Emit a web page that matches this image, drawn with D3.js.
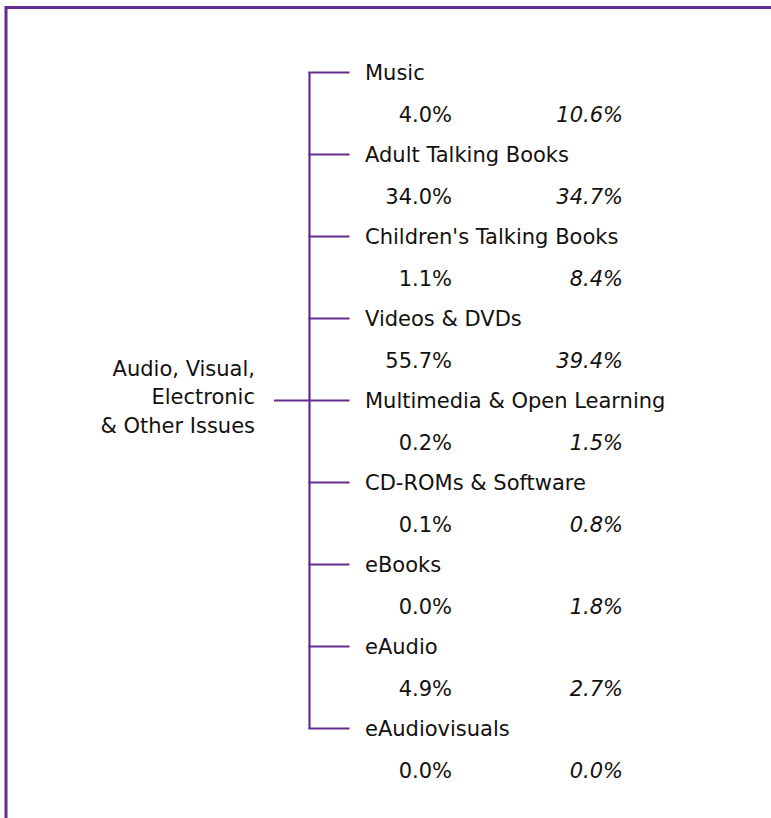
<!DOCTYPE html>
<html>
<head>
<meta charset="utf-8">
<script src="https://cdn.jsdelivr.net/npm/d3@7"></script>
<style>
  html, body { margin: 0; padding: 0; background: #fff; }
  svg { display: block; }
  text { font-family: "DejaVu Sans", Verdana, sans-serif; fill: #111; }
</style>
</head>
<body>
<svg id="chart" width="771" height="818"></svg>
<script>
const rootLabel = ["Audio, Visual,", "Electronic", "& Other Issues"];
const categories = ["Music", "Adult Talking Books", "Children's Talking Books", "Videos & DVDs",
  "Multimedia & Open Learning", "CD-ROMs & Software", "eBooks", "eAudio", "eAudiovisuals"];
const shareA = [4.0, 34.0, 1.1, 55.7, 0.2, 0.1, 0.0, 4.9, 0.0];
const shareB = [10.6, 34.7, 8.4, 39.4, 1.5, 0.8, 1.8, 2.7, 0.0];

const purple = "#662d91";
const W = 771, H = 818;
const svg = d3.select("#chart");

// frame
svg.append("path")
  .attr("d", `M6,${H} V7.5 H${W}`)
  .attr("fill", "none").attr("stroke", purple).attr("stroke-width", 3);

const y = d3.scalePoint().domain(categories).range([72.5, 728.5]);
const trunkX = 309.5, branchEnd = 349.5, rootStart = 274;
const rootY = y(categories[Math.floor(categories.length / 2)]);

const g = svg.append("g");
// trunk
g.append("path")
  .attr("d", `M${trunkX},${y(categories[0])} V${y(categories[categories.length - 1])}`)
  .attr("stroke", purple).attr("stroke-width", 2.2).attr("fill", "none");
// root connector
g.append("line")
  .attr("x1", rootStart).attr("x2", trunkX).attr("y1", rootY).attr("y2", rootY)
  .attr("stroke", purple).attr("stroke-width", 2.2);
// branches
g.selectAll("line.branch").data(categories).join("line")
  .attr("class", "branch")
  .attr("x1", trunkX - 1.1).attr("x2", branchEnd)
  .attr("y1", d => y(d)).attr("y2", d => y(d))
  .attr("stroke", purple).attr("stroke-width", 2.2);

const fs = 21;
// root label
g.selectAll("text.root").data(rootLabel).join("text")
  .attr("class", "root")
  .attr("x", 255).attr("y", (d, i) => 375.7 + i * 28.4)
  .attr("text-anchor", "end").attr("font-size", fs)
  .text(d => d);

// category labels
g.selectAll("text.cat").data(categories).join("text")
  .attr("class", "cat")
  .attr("x", 365).attr("y", d => y(d) + 7.6)
  .attr("font-size", fs)
  .text(d => d);

// values
g.selectAll("text.va").data(categories).join("text")
  .attr("class", "va")
  .attr("x", 452).attr("y", d => y(d) + 49)
  .attr("text-anchor", "end").attr("font-size", fs)
  .text((d, i) => shareA[i].toFixed(1) + "%");

g.selectAll("text.vb").data(categories).join("text")
  .attr("class", "vb")
  .attr("x", 623).attr("y", d => y(d) + 49)
  .attr("text-anchor", "end").attr("font-size", fs)
  .attr("font-style", "italic")
  .text((d, i) => shareB[i].toFixed(1) + "%");
</script>
</body>
</html>
